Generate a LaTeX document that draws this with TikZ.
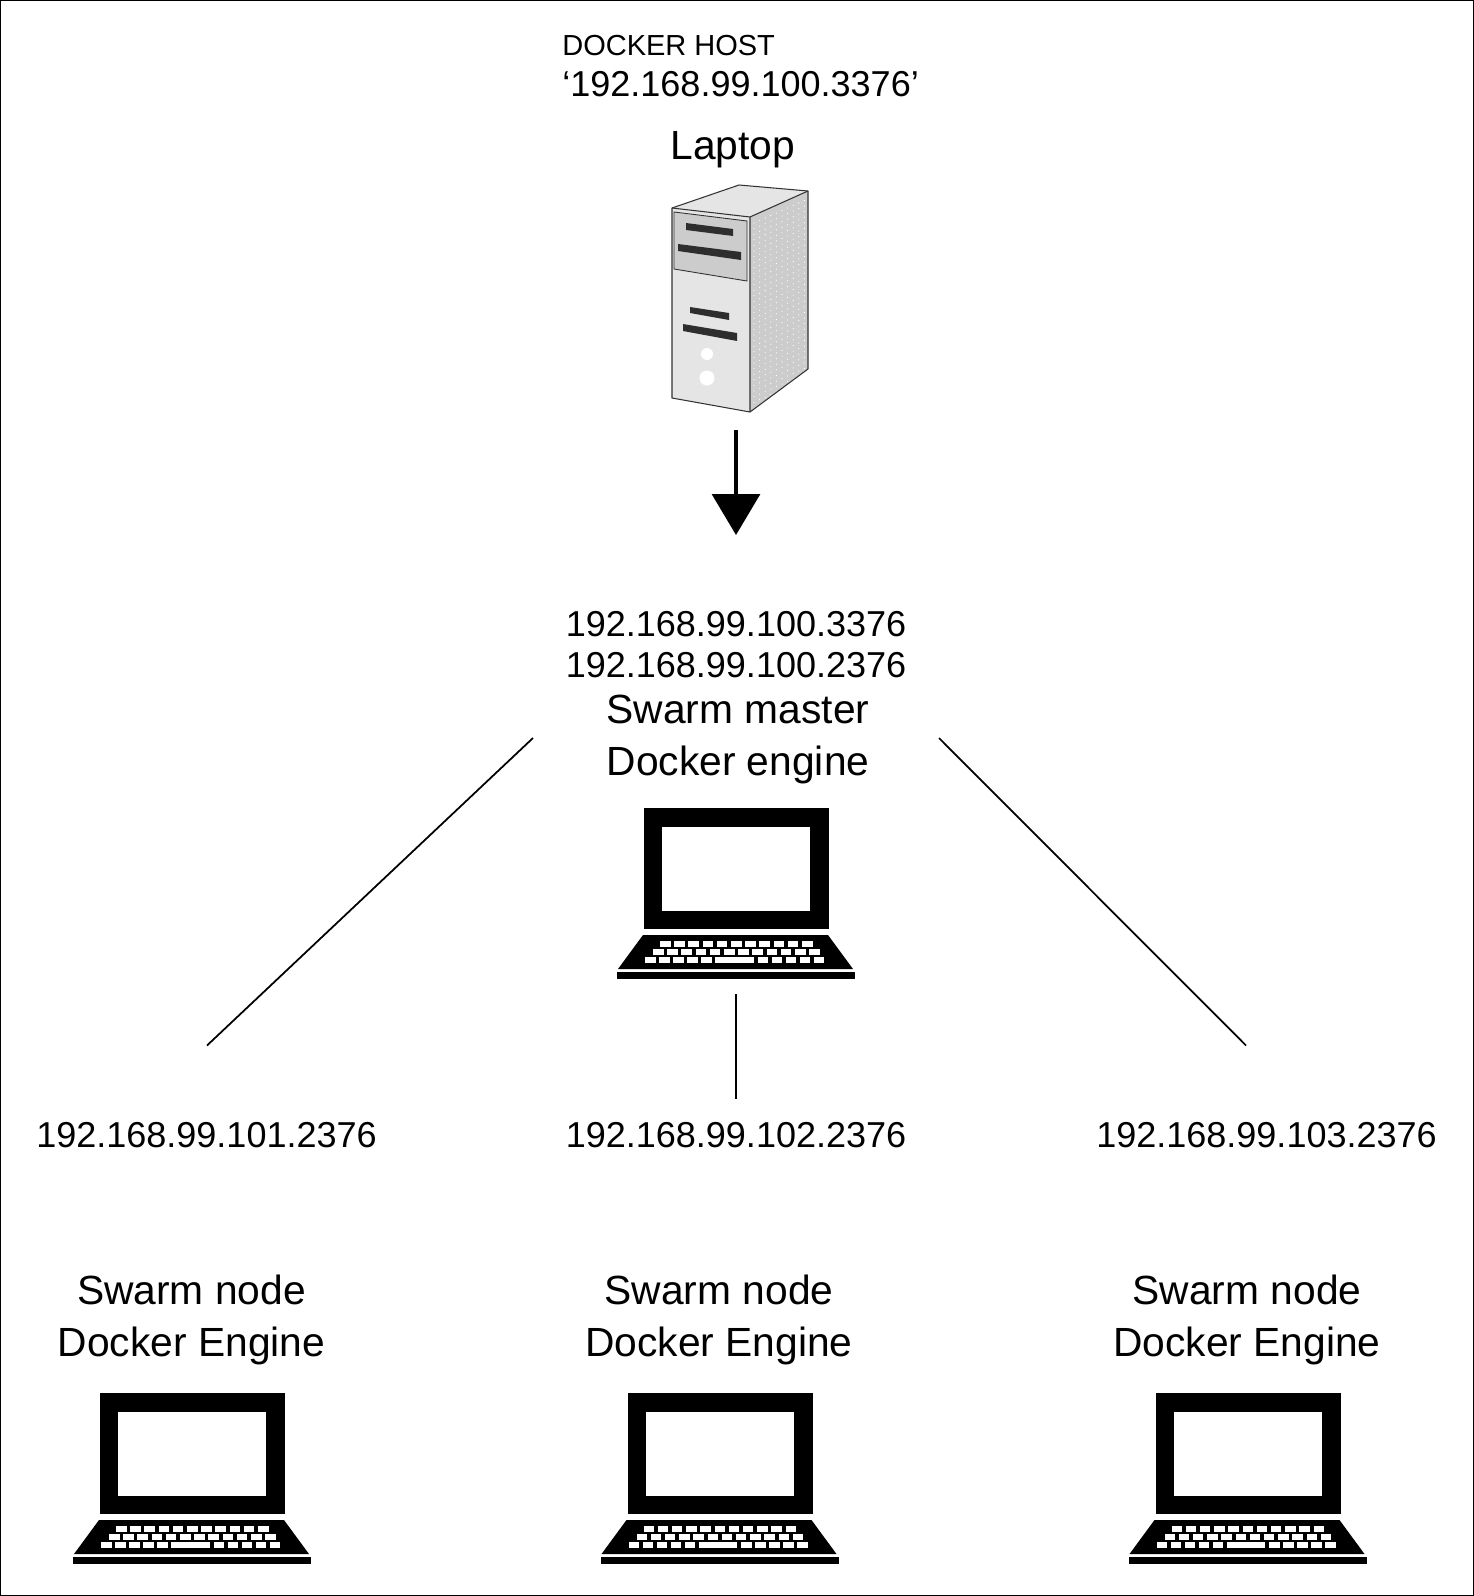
\documentclass[tikz,border=0pt]{standalone}
\usepackage{fontspec}
\setmainfont{Liberation Sans}
\usetikzlibrary{arrows.meta}
\definecolor{caseface}{gray}{0.90}
\definecolor{caseside}{gray}{0.80}
\definecolor{caseslot}{gray}{0.18}
\tikzset{
  ipnode/.style={align=center, inner sep=0pt, font=\fontsize{20.5}{23.3}\selectfont},
  namenode/.style={align=center, inner sep=0pt, font=\fontsize{23.2}{29.6}\selectfont},
  link/.style={line width=1pt},
  laptop/.pic={
    % lid
    \fill[black] (-92,0) rectangle (93,121);
    \fill[white] (-74,19) rectangle (74,103);
    % keyboard
    \fill[black] (-93,127) -- (92,127) -- (117,161) -- (-118,161) -- cycle;
    \fill[black] (-119,164) rectangle (119,171);
    \foreach \i in {0,...,10} \fill[white] (-76+14.2*\i,132.7) rectangle ++(10.5,6.6);
    \foreach \i in {0,...,11} \fill[white] (-83+14.2*\i,140.7) rectangle ++(10.5,6.6);
    \foreach \i in {0,...,4} \fill[white] (-91+14*\i,148.7) rectangle ++(10.5,6.6);
    \fill[white] (-21,148.7) rectangle ++(38.5,6.6);
    \foreach \i in {0,...,4} \fill[white] (21.5+14*\i,148.7) rectangle ++(10.5,6.6);
  }
}
\begin{document}
\begin{tikzpicture}[x=0.02cm, y=-0.02cm]
  \useasboundingbox (0,0) rectangle (1474,1596);
  \draw[line width=0.8pt] (0.7,0.7) rectangle (1473.3,1595.3);

  % Tower
  \fill[caseface] (672,208) -- (739,185) -- (808,191) -- (750,217) -- (750,412) -- (672,398) -- cycle;
  \fill[caseside] (750,217) -- (808,191) -- (808,369) -- (750,412) -- cycle;
  \foreach \i in {0,...,9} \foreach \j in {0,...,32}
    \fill[white] (754+5.6*\i,223+5.6*\j-2.5*\i) circle (0.6);
  \draw[gray!40!black, line width=0.6pt, line join=round] (672,208) -- (739,185) -- (808,191) -- (808,369) -- (750,412) -- (672,398) -- cycle;
  \draw[gray!40!black, line width=0.6pt] (672,208) -- (750,217) -- (808,191) (750,217) -- (750,412);
  \filldraw[fill=caseside, draw=gray!40!black, line width=0.5pt] (674,212) -- (747,221) -- (747,281) -- (674,269) -- cycle;
  \fill[caseslot] (686,223) -- (733,229) -- (733,236) -- (686,230) -- cycle;
  \fill[caseslot] (678,244) -- (741,252) -- (741,260) -- (678,251) -- cycle;
  \fill[caseslot] (690,307) -- (729,313) -- (729,320) -- (690,313) -- cycle;
  \fill[caseslot] (683,324) -- (737,333) -- (737,341) -- (683,331) -- cycle;
  \fill[white] (707,354) circle (6);
  \fill[white] (707,378) circle (7.5);

  % Laptops
  \pic (master) at (736,808) {laptop};
  \pic (nodeA) at (192,1393) {laptop};
  \pic (nodeB) at (719.5,1393) {laptop};
  \pic (nodeC) at (1247.5,1393) {laptop};

  % Nodes
  \node[ipnode, anchor=west, align=left] (host) at (562,66.5) {{\fontsize{16.5}{23.3}\selectfont DOCKER HOST}\\‘192.168.99.100.3376’};
  \node[namenode] (laptoplabel) at (733,150) {Laptop};
  \node[ipnode] (masterip) at (736,644.5) {192.168.99.100.3376\\192.168.99.100.2376};
  \node[namenode] (masterlabel) at (738,739.5) {Swarm master\\Docker engine};
  \node[ipnode] (ipA) at (206.5,1135) {192.168.99.101.2376};
  \node[ipnode] (ipB) at (736,1135) {192.168.99.102.2376};
  \node[ipnode] (ipC) at (1266.5,1135) {192.168.99.103.2376};
  \node[namenode] (labelA) at (191.5,1320) {Swarm node\\Docker Engine};
  \node[namenode] (labelB) at (719,1320) {Swarm node\\Docker Engine};
  \node[namenode] (labelC) at (1247,1320) {Swarm node\\Docker Engine};

  % Edges
  \coordinate (arrowtop) at (736,430);
  \coordinate (arrowend) at (736,535);
  \coordinate (leftstart) at (533,738);
  \coordinate (leftend) at (207,1045.5);
  \coordinate (midstart) at (736,994);
  \coordinate (midend) at (736,1099);
  \coordinate (rightstart) at (939,738);
  \coordinate (rightend) at (1246,1045.5);
  \draw[-{Triangle[length=0.82cm, width=0.96cm]}, line width=1.8pt] (arrowtop) -- (arrowend);
  \draw[link] (leftstart) -- (leftend);
  \draw[link] (midstart) -- (midend);
  \draw[link] (rightstart) -- (rightend);
\end{tikzpicture}
\end{document}
